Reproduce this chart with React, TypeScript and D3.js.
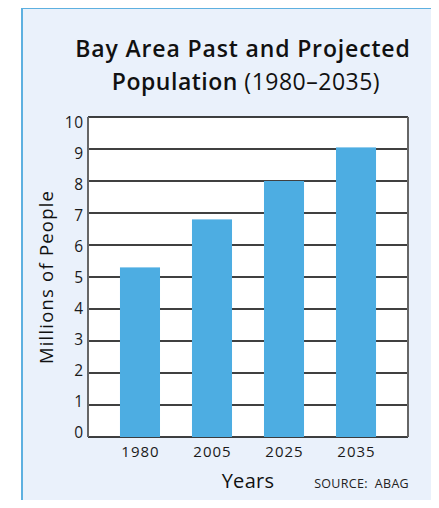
import React, { useEffect, useRef } from 'react';
import * as d3 from 'd3';

const years = ['1980', '2005', '2025', '2035'];
const population = [5.3, 6.8, 8.0, 9.05];
const yTicks = [0, 1, 2, 3, 4, 5, 6, 7, 8, 9, 10];

const App = () => {
    const svgRef = useRef<SVGSVGElement | null>(null);

    useEffect(() => {
        const svg = d3.select(svgRef.current);
        svg.selectAll('*').remove();

        const width = 439;
        const height = 508;
        const margin = { top: 117, right: 31, bottom: 71, left: 88 };
        const innerWidth = width - margin.left - margin.right;
        const innerHeight = height - margin.top - margin.bottom;
        const font = '"Open Sans", "Noto Sans", sans-serif';

        // 배경 패널
        svg.append('rect').attr('x', 0).attr('y', 0).attr('width', width).attr('height', height).attr('fill', '#fff');
        svg.append('rect')
            .attr('x', 22).attr('y', 8)
            .attr('width', width - 22).attr('height', height - 8)
            .attr('fill', '#EAF1FB');
        svg.append('line').attr('x1', 22).attr('x2', 22).attr('y1', 7).attr('y2', height)
            .attr('stroke', '#5DB0E0').attr('stroke-width', 2);
        svg.append('line').attr('x1', 21).attr('x2', width).attr('y1', 8).attr('y2', 8)
            .attr('stroke', '#5DB0E0').attr('stroke-width', 2);

        // 제목
        const title = svg.append('text')
            .attr('text-anchor', 'middle')
            .attr('font-family', font).attr('font-size', 23).attr('fill', '#111');
        title.append('tspan').attr('x', 243).attr('y', 57)
            .attr('letter-spacing', 0.85).attr('font-weight', 600)
            .text('Bay Area Past and Projected');
        const line2 = title.append('tspan').attr('x', 246).attr('y', 90).attr('letter-spacing', 0.5);
        line2.append('tspan').attr('font-weight', 600).text('Population ');
        line2.append('tspan').text('(1980–2035)');

        const xScale = d3.scaleBand<string>()
            .domain(years)
            .range([0, innerWidth])
            .paddingInner(0.444)
            .paddingOuter(0.444);

        const yScale = d3.scaleLinear()
            .domain([0, 10])
            .range([innerHeight, 0]);

        // 눈금 글자는 선보다 조금 좁은 간격으로 놓여 있음
        const labelScale = d3.scaleLinear()
            .domain([0, 10])
            .range([innerHeight - 5, 5.5]);

        const g = svg.append('g').attr('transform', `translate(${margin.left},${margin.top})`);

        g.append('rect').attr('width', innerWidth).attr('height', innerHeight).attr('fill', '#fff');

        // 눈금선
        g.selectAll('.grid')
            .data(yTicks)
            .enter()
            .append('line')
            .attr('x1', 0).attr('x2', innerWidth)
            .attr('y1', d => yScale(d)).attr('y2', d => yScale(d))
            .attr('stroke', '#000').attr('stroke-width', 1.5);

        // 막대
        g.selectAll('.bar')
            .data(population)
            .enter()
            .append('rect')
            .attr('x', (_, i) => xScale(years[i]) as number)
            .attr('y', d => yScale(d))
            .attr('width', xScale.bandwidth())
            .attr('height', d => innerHeight - yScale(d))
            .attr('fill', '#4DADE2');

        // 좌우 테두리
        g.append('line').attr('x1', 0).attr('x2', 0).attr('y1', 0).attr('y2', innerHeight)
            .attr('stroke', '#666').attr('stroke-width', 2);
        g.append('line').attr('x1', innerWidth).attr('x2', innerWidth).attr('y1', 0).attr('y2', innerHeight)
            .attr('stroke', '#666').attr('stroke-width', 2);

        // y축 라벨
        g.selectAll('.ytick')
            .data(yTicks)
            .enter()
            .append('text')
            .attr('x', -4)
            .attr('y', d => labelScale(d))
            .attr('dy', '0.36em')
            .attr('text-anchor', 'end')
            .attr('letter-spacing', 0.8)
            .attr('font-family', font).attr('font-size', 15.5).attr('fill', '#1a1a1a')
            .text(d => d);

        // x축 라벨
        g.selectAll('.xtick')
            .data(years)
            .enter()
            .append('text')
            .attr('x', d => (xScale(d) as number) + xScale.bandwidth() / 2 + 0.5)
            .attr('y', innerHeight + 20)
            .attr('text-anchor', 'middle')
            .attr('letter-spacing', 1)
            .attr('font-family', font).attr('font-size', 15).attr('fill', '#1a1a1a')
            .text(d => d);

        svg.append('text')
            .attr('x', 248).attr('y', 488)
            .attr('text-anchor', 'middle')
            .attr('letter-spacing', 0.3)
            .attr('font-family', font).attr('font-size', 20).attr('fill', '#111')
            .text('Years');

        svg.append('text')
            .attr('x', 409).attr('y', 488)
            .attr('text-anchor', 'end')
            .attr('letter-spacing', 0.3)
            .attr('font-family', font).attr('font-size', 12.5).attr('fill', '#222')
            .style('white-space', 'pre')
            .text('SOURCE:  ABAG');

        svg.append('text')
            .attr('transform', `translate(53,${margin.top + innerHeight / 2}) rotate(-90)`)
            .attr('text-anchor', 'middle')
            .attr('letter-spacing', 1.2)
            .attr('font-family', font).attr('font-size', 18.5).attr('fill', '#111')
            .text('Millions of People');
    }, []);

    return (
        <div style={{ margin: -8 }}>
            <svg ref={svgRef} width={439} height={508} style={{ display: 'block' }} />
        </div>
    );
};

export default App;
